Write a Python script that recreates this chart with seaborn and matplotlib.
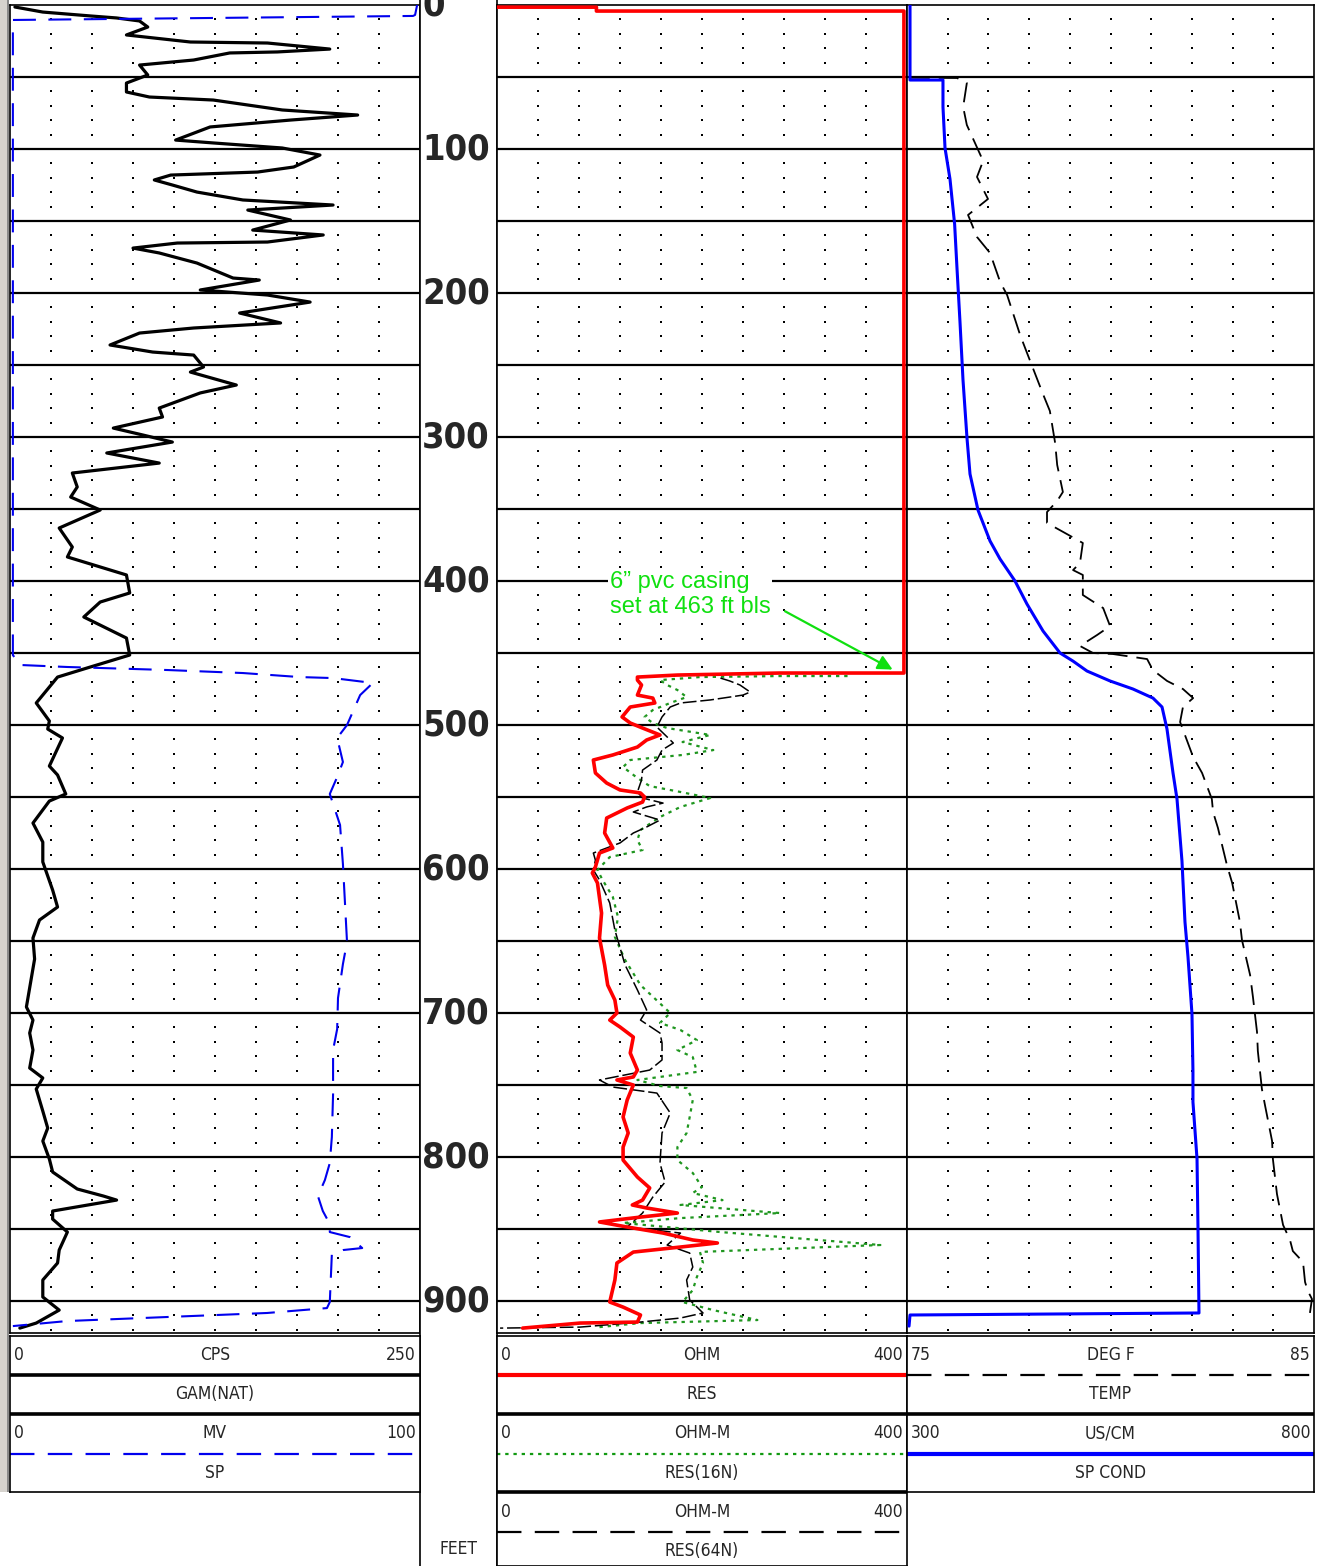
import numpy as np
import pandas as pd
import matplotlib
matplotlib.use("Agg")
import matplotlib.pyplot as plt
import seaborn as sns
from matplotlib import font_manager
from matplotlib.patches import Rectangle

# ---------------- data (depth in feet, values in log units) ----------------
gam_depth = [1.4, 4.9, 7.6, 9.0, 11.1, 15.3, 20.8, 25.7, 26.4, 30.6, 32.6, 33.3, 38.2, 41.7, 48.6, 54.2,
             60.4, 63.9, 66.0, 72.9, 76.4, 79.9, 84.7, 93.8, 95.8, 99.3, 104.2, 112.5, 116.0, 118.1, 121.5,
             125.0, 129.9, 135.4, 138.9, 142.4, 149.3, 156.3, 159.7, 164.6, 165.3, 168.8, 172.2, 179.2,
             189.6, 191.0, 197.9, 201.4, 206.3, 213.9, 220.8, 224.3, 227.8, 236.1, 241.0, 243.1, 251.4,
             254.9, 263.9, 269.4, 279.9, 286.1, 293.8, 298.6, 303.5, 311.1, 318.1, 321.5, 325.0, 334.7,
             341.7, 350.7, 363.2, 376.4, 383.3, 395.8, 408.3, 414.6, 425.0, 439.6, 451.4, 460.4, 466.7,
             484.7, 497.2, 502.8, 509.0, 528.5, 534.7, 547.9, 552.8, 568.1, 581.3, 595.1, 614.6, 626.4,
             635.4, 647.9, 662.5, 695.8, 704.9, 713.9, 725.7, 738.2, 745.1, 752.8, 768.1, 779.9, 788.9,
             801.4, 810.4, 822.2, 827.1, 829.9, 837.5, 843.1, 852.1, 864.6, 873.6, 885.4, 897.2, 906.3,
             915.3, 918.8]
gam_cps = [3, 20, 49, 65, 79, 84, 71, 110, 157, 195, 163, 134, 112, 79, 84, 71,
           71, 85, 124, 166, 212, 171, 122, 101, 124, 166, 189, 173, 151, 98, 88,
           99, 114, 142, 197, 145, 171, 148, 191, 157, 102, 75, 91, 114,
           136, 152, 116, 157, 183, 140, 165, 112, 79, 61, 87, 112, 118,
           110, 138, 116, 91, 93, 63, 81, 99, 59, 91, 65, 38, 41,
           37, 55, 30, 38, 35, 71, 73, 55, 45, 71, 73, 47, 29,
           16, 24, 23, 32, 24, 29, 34, 24, 14, 20, 20, 26, 29,
           18, 14, 15, 10, 14, 12, 14, 12, 20, 16, 20, 23, 20,
           24, 26, 41, 57, 65, 26, 26, 35, 30, 29, 20, 20, 30,
           16, 6]

sp_depth = [0.0, 6.9, 7.6, 10.4, 451.4, 458.3, 459.7, 461.8, 463.9, 466.7, 467.4, 470.8, 479.2, 500.0,
            509.0, 525.7, 536.1, 547.9, 569.4, 596.5, 623.6, 650.7, 666.0, 689.6, 711.1, 725.7, 756.3,
            786.1, 804.2, 816.0, 827.1, 837.5, 846.5, 852.1, 855.6, 863.2, 864.6, 867.4, 900.7, 904.9,
            908.3, 911.1, 913.9, 917.4]
sp_mv = [99.3, 98.8, 98.3, 0.7, 0.7, 2.4, 13.9, 38.3, 56.8, 70.7, 78.8, 88.5, 85.4, 82.2,
         79.8, 81.2, 79.8, 78.0, 80.5, 81.2, 81.7, 82.2, 81.2, 80.0, 79.8, 78.8, 78.8,
         78.5, 78.0, 76.8, 75.1, 76.3, 78.0, 78.0, 82.9, 85.9, 81.2, 78.5, 78.0, 77.3,
         62.7, 38.3, 13.9, 0.7]

res_depth = [1.5, 1.5, 4.2, 4.2, 463.9, 463.9, 465.3, 466.7, 468.8, 472.2, 479.2, 481.3, 484.7, 487.5,
             494.4, 498.6, 502.1, 506.9, 510.4, 515.3, 520.8, 524.3, 533.3, 540.3, 545.1, 547.2, 550.0,
             553.5, 557.6, 564.6, 575.0, 585.4, 588.9, 598.6, 602.8, 609.7, 630.6, 647.9, 666.7, 680.6,
             691.0, 700.0, 704.9, 709.7, 716.7, 727.8, 739.6, 744.4, 746.5, 750.0, 760.4, 772.2, 783.3,
             793.1, 802.1, 813.9, 821.5, 829.9, 833.3, 835.4, 838.9, 841.7, 845.1, 848.6, 852.8, 857.6,
             859.7, 862.5, 866.0, 873.6, 885.4, 900.7, 904.2, 909.7, 914.6, 915.3, 918.8]
res_ohm = [0, 97, 97, 397, 397, 276, 176, 137, 137, 141, 137, 152, 154, 130,
           122, 130, 142, 159, 146, 137, 113, 94, 96, 107, 120, 140, 144,
           142, 127, 107, 105, 113, 100, 96, 93, 98, 102, 100, 105, 108,
           115, 117, 110, 120, 133, 130, 137, 133, 117, 133, 127, 123, 128,
           123, 123, 137, 149, 142, 132, 146, 176, 140, 100, 127, 162, 191,
           215, 179, 133, 117, 115, 110, 123, 140, 137, 81, 25]

r16_depth = [466.0, 466.0, 466.7, 468.8, 472.2, 475.7, 480.6, 484.7, 489.6, 494.4, 498.6, 502.1, 506.9,
             511.8, 517.4, 520.8, 524.3, 529.2, 536.8, 542.4, 546.5, 550.7, 556.9, 563.9, 572.9, 579.9,
             586.8, 591.7, 600.7, 607.6, 619.4, 633.3, 647.2, 663.2, 680.6, 700.0, 706.9, 711.8, 718.8,
             725.7, 730.6, 740.9, 746.5, 750.7, 752.1, 760.4, 772.2, 783.3, 793.1, 802.1, 811.1, 820.8,
             825.0, 829.9, 833.3, 838.9, 842.4, 845.8, 852.1, 861.1, 865.9, 873.6, 883.3, 892.4, 900.7,
             906.3, 913.2, 915.3, 918.1]
r16_ohm = [342, 276, 198, 159, 166, 176, 185, 169, 152, 144, 152, 166, 208,
           181, 211, 181, 130, 123, 137, 149, 179, 208, 179, 159, 140, 137,
           142, 110, 98, 103, 113, 118, 115, 125, 140, 169, 159, 179, 195,
           176, 191, 195, 137, 159, 185, 191, 188, 185, 176, 176, 191, 200,
           191, 220, 179, 276, 179, 123, 218, 374, 198, 201, 195, 191, 181,
           211, 254, 140, 100]

r64_depth = [467.4, 469.4, 472.2, 477.1, 479.2, 480.6, 482.6, 484.7, 487.5, 494.4, 501.4, 508.3, 512.5,
             517.4, 524.3, 531.3, 538.2, 546.5, 550.7, 554.2, 556.9, 560.4, 566.0, 570.8, 575.0, 581.9,
             588.9, 593.8, 600.7, 607.6, 623.6, 642.4, 666.7, 684.0, 697.9, 704.9, 713.9, 720.8, 732.6,
             739.6, 746.5, 751.4, 755.6, 769.4, 783.3, 804.2, 817.4, 827.8, 838.9, 848.6, 852.8, 861.1,
             866.7, 876.4, 885.4, 899.3, 908.3, 911.8, 914.6, 918.1, 918.8]
r64_ohm = [218, 227, 237, 247, 240, 227, 208, 179, 169, 161, 156, 166, 172,
           161, 156, 142, 141, 137, 142, 162, 146, 133, 159, 146, 133, 120,
           94, 96, 94, 100, 110, 115, 125, 137, 146, 140, 159, 161, 161,
           149, 100, 113, 156, 169, 161, 159, 164, 152, 142, 127, 179, 166,
           188, 191, 185, 188, 201, 179, 140, 81, 3]

temp_depth = [50.5, 50.7, 54.2, 70.8, 83.3, 108.3, 119.4, 134.7, 145.8, 161.1, 172.2, 192.4, 201.4,
              229.2, 241.7, 270.1, 281.9, 304.2, 319.4, 338.2, 344.4, 352.1, 359.7, 367.4, 373.6,
              387.5, 392.4, 395.8, 409.7, 418.8, 431.3, 437.5, 445.1, 450.0, 450.7, 454.2, 461.8,
              469.4, 475.0, 481.3, 487.5, 497.9, 522.2, 533.3, 551.4, 560.4, 571.5, 597.2, 609.7,
              636.8, 649.3, 673.6, 688.9, 713.2, 726.4, 752.8, 764.6, 788.9, 801.4, 825.7, 847.2,
              857.6, 865.3, 872.9, 886.8, 893.1, 898.6, 908.3]
temp_degf = [75.07, 76.23, 76.47, 76.38, 76.47, 76.87, 76.72, 76.99, 76.50, 76.72, 77.04, 77.29, 77.46,
             77.78, 77.95, 78.34, 78.51, 78.64, 78.69, 78.83, 78.69, 78.44, 78.44, 78.93, 79.32,
             79.25, 79.08, 79.32, 79.32, 79.82, 79.99, 79.67, 79.25, 79.57, 80.06, 80.90, 81.04,
             81.39, 81.78, 82.03, 81.78, 81.71, 82.03, 82.25, 82.49, 82.52, 82.64, 82.86, 82.99,
             83.18, 83.23, 83.43, 83.50, 83.60, 83.62, 83.72, 83.80, 83.97, 83.99, 84.09, 84.24,
             84.41, 84.48, 84.73, 84.78, 84.85, 84.95, 84.90]

cond_depth = [0.0, 52.1, 52.1, 70.8, 99.3, 120.8, 152.1, 182.6, 220.1, 260.4, 300.7, 325.7, 350.7,
              372.2, 384.7, 400.0, 416.0, 434.7, 450.0, 455.6, 462.5, 469.4, 475.0, 481.3, 487.5,
              502.8, 533.3, 551.4, 594.4, 636.8, 661.1, 700.7, 740.3, 761.8, 801.4, 850.0, 908.3,
              909.7, 917.4]
cond_uscm = [303.7, 303.7, 344.2, 344.2, 346.7, 352.8, 358.5, 361.4, 365.1, 368.8, 373.7, 377.4, 387.2,
             402.0, 414.3, 432.7, 447.4, 467.1, 488.0, 503.9, 521.1, 549.4, 577.6, 602.2, 613.3,
             619.4, 626.8, 631.7, 637.8, 641.5, 645.2, 650.1, 651.3, 651.3, 656.3, 657.5, 658.7,
             303.7, 302.5]

depth_labels = [0, 100, 200, 300, 400, 500, 600, 700, 800, 900]
casing_note = "6\u201d pvc casing\nset at 463 ft bls"
casing_depth = 463

# ---------------- styling ----------------
sns.set_theme(style="white")
plt.rcParams["font.family"] = ["Liberation Sans", "DejaVu Sans"]


def find_narrow(bold):
    """Look for an installed narrow / condensed sans face."""
    best = None
    for f in font_manager.fontManager.ttflist:
        nm = (f.name + " " + f.fname).lower()
        narrow = ("narrow" in nm or "condensed" in nm or
                  str(f.stretch).lower() in ("condensed", "semi-condensed", "extra-condensed"))
        if not narrow or "mono" in nm or "serif" in f.name.lower() and "sans" not in f.name.lower():
            continue
        if "italic" in nm or "oblique" in nm or str(f.style) != "normal":
            continue
        w = f.weight if isinstance(f.weight, int) else (700 if "bold" in str(f.weight) else 400)
        is_bold = w >= 600
        if is_bold != bold:
            continue
        score = 0 if "liberation" in nm else (1 if "dejavu" in nm else 2)
        if best is None or score < best[0]:
            best = (score, f.fname)
    return best[1] if best else None


nb = find_narrow(True)
nr = find_narrow(False)
if nb:
    DEP_FP = font_manager.FontProperties(fname=nb, size=26)
else:
    DEP_FP = font_manager.FontProperties(family=["Liberation Sans", "DejaVu Sans"], weight="bold", size=22)
if nr:
    HDR_FP = font_manager.FontProperties(fname=nr, size=12.5)
else:
    HDR_FP = font_manager.FontProperties(family=["Liberation Sans", "DejaVu Sans"], size=11.5)

W, H = 1319, 1566
fig = plt.figure(figsize=(W / 100, H / 100), dpi=100)
fig.patch.set_facecolor("white")


def px_axes(x0, y0, x1, y1):
    return fig.add_axes([x0 / W, 1 - y1 / H, (x1 - x0) / W, (y1 - y0) / H])


DMAX = 922.2
Y_TOP, Y_BOT = 5, 1333
T1 = (10, 420)
TD = (420, 497)
T2 = (497, 907)
T3 = (907, 1314)

GREEN_TXT = "#10e010"
RES16_GREEN = "#1f961f"


def style_track(ax, xlim):
    ax.set_xlim(*xlim)
    ax.set_ylim(DMAX, 0)
    ax.set_xticks([])
    ax.set_yticks([])
    ax.set_xlabel("")
    ax.set_ylabel("")
    ax.set_facecolor("white")
    for s in ax.spines.values():
        s.set_visible(True)
        s.set_color("black")
        s.set_linewidth(1.2)
    for d in range(50, 901, 50):
        ax.axhline(d, color="black", lw=1.6, zorder=1)
    xs = np.linspace(xlim[0], xlim[1], 11)[1:-1]
    ds = [d for d in range(10, 921, 10) if d % 50]
    X, Y = np.meshgrid(xs, ds)
    ax.scatter(X.ravel(), Y.ravel(), s=2.2, marker="s", color="black", linewidths=0, zorder=1)


def twin_clean(ax):
    ax.set_xticks([])
    ax.set_yticks([])
    ax.set_xlabel("")
    ax.set_ylabel("")
    for s in ax.spines.values():
        s.set_visible(False)


def log_line(ax, x, y, **kw):
    df = pd.DataFrame({"v": x, "d": y})
    sns.lineplot(data=df, x="v", y="d", sort=False, estimator=None, orient="y", ax=ax, **kw)


# left window edge
fig.patches.append(Rectangle((0, 1 - 1492 / H), 7 / W, 1492 / H, transform=fig.transFigure,
                             facecolor="#d6d3ce", edgecolor="none"))
fig.patches.append(Rectangle((7 / W, 1 - 1492 / H), 2 / W, 1492 / H, transform=fig.transFigure,
                             facecolor="#8a8a8a", edgecolor="none"))

# ---------------- Track 1: gamma + SP ----------------
ax1 = px_axes(T1[0], Y_TOP, T1[1], Y_BOT)
style_track(ax1, (0, 250))
log_line(ax1, gam_cps, gam_depth, color="black", lw=2.3, zorder=4)
ax1.set_xlim(0, 250); ax1.set_ylim(DMAX, 0); ax1.set_xlabel(""); ax1.set_ylabel("")
ax1b = ax1.twiny()
log_line(ax1b, sp_mv, sp_depth, color="#0000ee", lw=1.5, linestyle=(0, (11, 6)), zorder=3)
ax1b.set_xlim(0, 100); ax1b.set_ylim(DMAX, 0)
twin_clean(ax1b)

# ---------------- Depth column ----------------
axd_bg = px_axes(TD[0], 0, TD[1], H)
axd_bg.set_xticks([]); axd_bg.set_yticks([])
for k, s in axd_bg.spines.items():
    s.set_visible(k in ("left", "right"))
    s.set_color("black"); s.set_linewidth(1.2)
axd_bg.text(0.5, 17 / H, "FEET", transform=axd_bg.transAxes, ha="center", va="center",
            fontproperties=HDR_FP)

axd = px_axes(TD[0], Y_TOP, TD[1], Y_BOT)
axd.set_ylim(DMAX, 0); axd.set_xlim(0, 1)
axd.axis("off")
for d in depth_labels:
    axd.text(0.03, d, str(d), ha="left", va="center", fontproperties=DEP_FP, clip_on=False)

# ---------------- Track 2: resistivity ----------------
ax2 = px_axes(T2[0], Y_TOP, T2[1], Y_BOT)
style_track(ax2, (0, 400))
log_line(ax2, r16_ohm, r16_depth, color=RES16_GREEN, lw=1.6, linestyle=(0, (1.5, 2.2)), zorder=3)
log_line(ax2, r64_ohm, r64_depth, color="black", lw=1.1, linestyle=(0, (9, 2.5)), zorder=4)
log_line(ax2, res_ohm, res_depth, color="#ff0000", lw=2.6, zorder=5)
ax2.set_xlim(0, 400); ax2.set_ylim(DMAX, 0); ax2.set_xlabel(""); ax2.set_ylabel("")

ax2.text(110, 409.5, casing_note, ha="left", va="center", fontsize=17, color=GREEN_TXT,
         linespacing=1.17, zorder=6,
         bbox=dict(facecolor="white", edgecolor="none", pad=1.0))
ax2.annotate("", xy=(386, casing_depth - 1.5), xytext=(281, 421),
             arrowprops=dict(arrowstyle="-|>", color=GREEN_TXT, lw=1.6, mutation_scale=22,
                             shrinkA=0, shrinkB=0), zorder=6)

# ---------------- Track 3: temperature + conductivity ----------------
ax3 = px_axes(T3[0], Y_TOP, T3[1], Y_BOT)
style_track(ax3, (75, 85))
log_line(ax3, temp_degf, temp_depth, color="black", lw=1.3, linestyle=(0, (11, 5)), zorder=3)
ax3.set_xlim(75, 85); ax3.set_ylim(DMAX, 0); ax3.set_xlabel(""); ax3.set_ylabel("")
ax3b = ax3.twiny()
log_line(ax3b, cond_uscm, cond_depth, color="#0000ff", lw=2.2, zorder=4)
ax3b.set_xlim(300, 800); ax3b.set_ylim(DMAX, 0)
twin_clean(ax3b)

# ---------------- Headers ----------------
def header(x0, x1, y1, entries):
    ax = px_axes(x0, 1336, x1, y1)
    ax.set_xlim(x0, x1)
    ax.set_ylim(y1, 1336)
    ax.set_xticks([]); ax.set_yticks([])
    ax.set_facecolor("white")
    for s in ax.spines.values():
        s.set_visible(True); s.set_color("black"); s.set_linewidth(1.2)
    for i, (lo, unit, hi, name, style) in enumerate(entries):
        top = 1336 + i * 78.5
        ax.text(x0 + 4, top + 19, lo, ha="left", va="center", fontproperties=HDR_FP)
        ax.text((x0 + x1) / 2, top + 19, unit, ha="center", va="center", fontproperties=HDR_FP)
        ax.text(x1 - 4, top + 19, hi, ha="right", va="center", fontproperties=HDR_FP)
        ax.text((x0 + x1) / 2, top + 58, name, ha="center", va="center", fontproperties=HDR_FP)
        ax.axhline(top + 39, **style)
        if i < len(entries) - 1:
            ax.axhline(top + 77.5, color="black", lw=2.6)
    return ax


header(T1[0], T1[1], 1492, [
    ("0", "CPS", "250", "GAM(NAT)", dict(color="black", lw=2.6)),
    ("0", "MV", "100", "SP", dict(color="#0000ee", lw=1.6, linestyle=(0, (11, 6)))),
])
header(T2[0], T2[1], 1566, [
    ("0", "OHM", "400", "RES", dict(color="#ff0000", lw=3.0)),
    ("0", "OHM-M", "400", "RES(16N)", dict(color="#119911", lw=1.6, linestyle=(0, (1.5, 2.2)))),
    ("0", "OHM-M", "400", "RES(64N)", dict(color="black", lw=1.6, linestyle=(0, (11, 6)))),
])
header(T3[0], T3[1], 1492, [
    ("75", "DEG F", "85", "TEMP", dict(color="black", lw=1.6, linestyle=(0, (11, 6)))),
    ("300", "US/CM", "800", "SP COND", dict(color="#0000ff", lw=3.0)),
])

fig.savefig("out.png", dpi=100, facecolor="white")
